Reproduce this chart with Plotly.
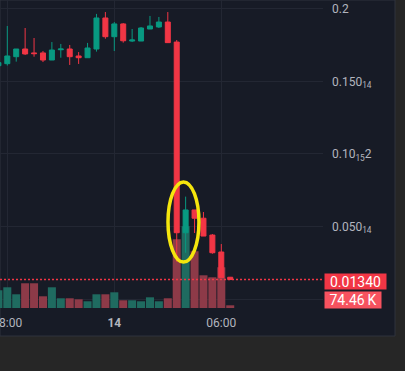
import plotly.graph_objects as go
import pandas as pd

# 30-minute candles, 13th 17:30 -> 14th 06:30
times = pd.date_range("2025-03-13 17:30", periods=27, freq="30min")

opens = [0.1609, 0.1623, 0.1671, 0.1724, 0.1697, 0.1697, 0.1648, 0.1719, 0.1724, 0.1676,
         0.1664, 0.1724, 0.1938, 0.1809, 0.1897, 0.1779, 0.1779, 0.1862, 0.1876, 0.1910,
         0.1772, 0.0457, 0.0614, 0.0557, 0.0441, 0.0324, 0.0150]
highs = [0.1640, 0.1883, 0.1724, 0.1869, 0.1800, 0.1710, 0.1772, 0.1759, 0.1752, 0.1703,
         0.1766, 0.1966, 0.1979, 0.1910, 0.1903, 0.1862, 0.1876, 0.1952, 0.1945, 0.1979,
         0.1786, 0.0706, 0.0614, 0.0600, 0.0448, 0.0379, 0.0152]
lows = [0.1600, 0.1610, 0.1637, 0.1683, 0.1671, 0.1634, 0.1648, 0.1664, 0.1614, 0.1621,
        0.1664, 0.1706, 0.1795, 0.1710, 0.1768, 0.1772, 0.1779, 0.1862, 0.1869, 0.1768,
        0.0257, 0.0319, 0.0455, 0.0434, 0.0312, 0.0147, 0.0131]
closes = [0.1630, 0.1676, 0.1724, 0.1690, 0.1692, 0.1648, 0.1717, 0.1724, 0.1671, 0.1664,
          0.1731, 0.1938, 0.1809, 0.1897, 0.1781, 0.1786, 0.1869, 0.1883, 0.1910, 0.1768,
          0.0457, 0.0614, 0.0557, 0.0434, 0.0319, 0.0147, 0.0134]
volumes_k = [489, 571, 378, 682, 682, 323, 571, 268, 268, 240,
             185, 378, 378, 433, 213, 213, 185, 295, 185, 268,
             1896, 2255, 1565, 902, 847, 1123, 74.46]

price_tickvals = [0, 0.05, 0.10, 0.15, 0.20]
price_ticktext = ["", "0.050<sub>14</sub>", "0.10<sub>15</sub>2", "0.150<sub>14</sub>", "0.2"]
time_tickvals = ["2025-03-13 18:00", "2025-03-14 00:00", "2025-03-14 06:00"]
time_ticktext = ["18:00", "<b>14</b>", "06:00"]
last_price_label = "0.01340"
last_volume_label = "74.46\u2009K"

UP = "#089981"
DOWN = "#f23645"
UP_VOL = "#1f6b60"
DOWN_VOL = "#8d3a48"
BG = "#171b26"
GRID = "#232733"

vol_colors = [UP_VOL if c >= o else DOWN_VOL for o, c in zip(opens, closes)]

fig = go.Figure()
fig.add_trace(go.Bar(
    x=times, y=volumes_k, marker=dict(color=vol_colors, line=dict(width=0)),
    width=0.9 * 30 * 60 * 1000, yaxis="y", xaxis="x", showlegend=False,
    hoverinfo="skip"))
fig.add_trace(go.Candlestick(
    x=times, open=opens, high=highs, low=lows, close=closes,
    increasing=dict(line=dict(color=UP, width=1), fillcolor=UP),
    decreasing=dict(line=dict(color=DOWN, width=1), fillcolor=DOWN),
    whiskerwidth=0, yaxis="y2", xaxis="x", showlegend=False))

# plot area: x 0..323 px, y 0..308 px
fig.update_layout(
    width=405, height=371,
    margin=dict(l=0, r=82, t=0, b=63, autoexpand=False),
    paper_bgcolor="#262626", plot_bgcolor=BG,
    boxgap=0.2,
    font=dict(family="Roboto", color="#b2b5be", size=12),
    xaxis=dict(
        type="date",
        range=["2025-03-13 17:35:26", "2025-03-14 11:42:11"],
        tickvals=time_tickvals, ticktext=time_ticktext,
        showgrid=True, gridcolor=GRID, gridwidth=1,
        zeroline=False, showline=False, ticks="",
        rangeslider=dict(visible=False),
        ticklabelstandoff=6,
        ticklabeloverflow="allow",
        automargin=False,
        tickfont=dict(size=12, color="#b2b5be"),
    ),
    yaxis=dict(
        range=[0, 8493], visible=False, showgrid=False, zeroline=False,
        automargin=False,
    ),
    yaxis2=dict(
        overlaying="y", side="right",
        range=[-0.00621, 0.2062],
        tickvals=price_tickvals, ticktext=price_ticktext,
        showgrid=True, gridcolor=GRID, gridwidth=1,
        zeroline=False, showline=False, ticks="",
        ticklabelstandoff=8,
        automargin=False,
        tickfont=dict(size=12, color="#b2b5be"),
    ),
)

# dark chart panel extending under axes
fig.add_shape(type="rect", xref="paper", yref="paper",
              x0=0, x1=395 / 323, y0=-28 / 308, y1=1.0,
              fillcolor=BG, line=dict(color="#2e323d", width=1), layer="below")

# last price dotted line
fig.add_shape(type="line", xref="paper", yref="y2", x0=0, x1=1,
              y0=closes[-1], y1=closes[-1],
              line=dict(color=DOWN, width=1.4, dash="2px,2px"), layer="above")

# highlight ellipse
fig.add_shape(type="circle", xref="x", yref="y2",
              x0="2025-03-14 03:00:40", x1="2025-03-14 04:44:50",
              y0=0.0255, y1=0.0807,
              line=dict(color="#f5e60d", width=3.5), layer="above")

fig.add_annotation(xref="paper", yref="paper", x=324 / 323, y=(308 - 281.5) / 308,
                   xanchor="left", yanchor="middle", text=last_price_label,
                   showarrow=False, bgcolor=DOWN, borderpad=0,
                   width=61, height=15, align="center",
                   font=dict(color="white", size=14, family="Roboto"))
fig.add_annotation(xref="paper", yref="paper", x=324 / 323, y=(308 - 300) / 308,
                   xanchor="left", yanchor="middle", text=last_volume_label,
                   showarrow=False, bgcolor="#f7525f", borderpad=0,
                   width=56, height=16, align="center",
                   font=dict(color="white", size=14, family="Roboto"))

fig.write_html(
    "out.html",
    config={"displayModeBar": False},
    post_script="document.documentElement.style.margin='0';"
                "document.body.style.margin='0';document.body.style.overflow='hidden';",
)
